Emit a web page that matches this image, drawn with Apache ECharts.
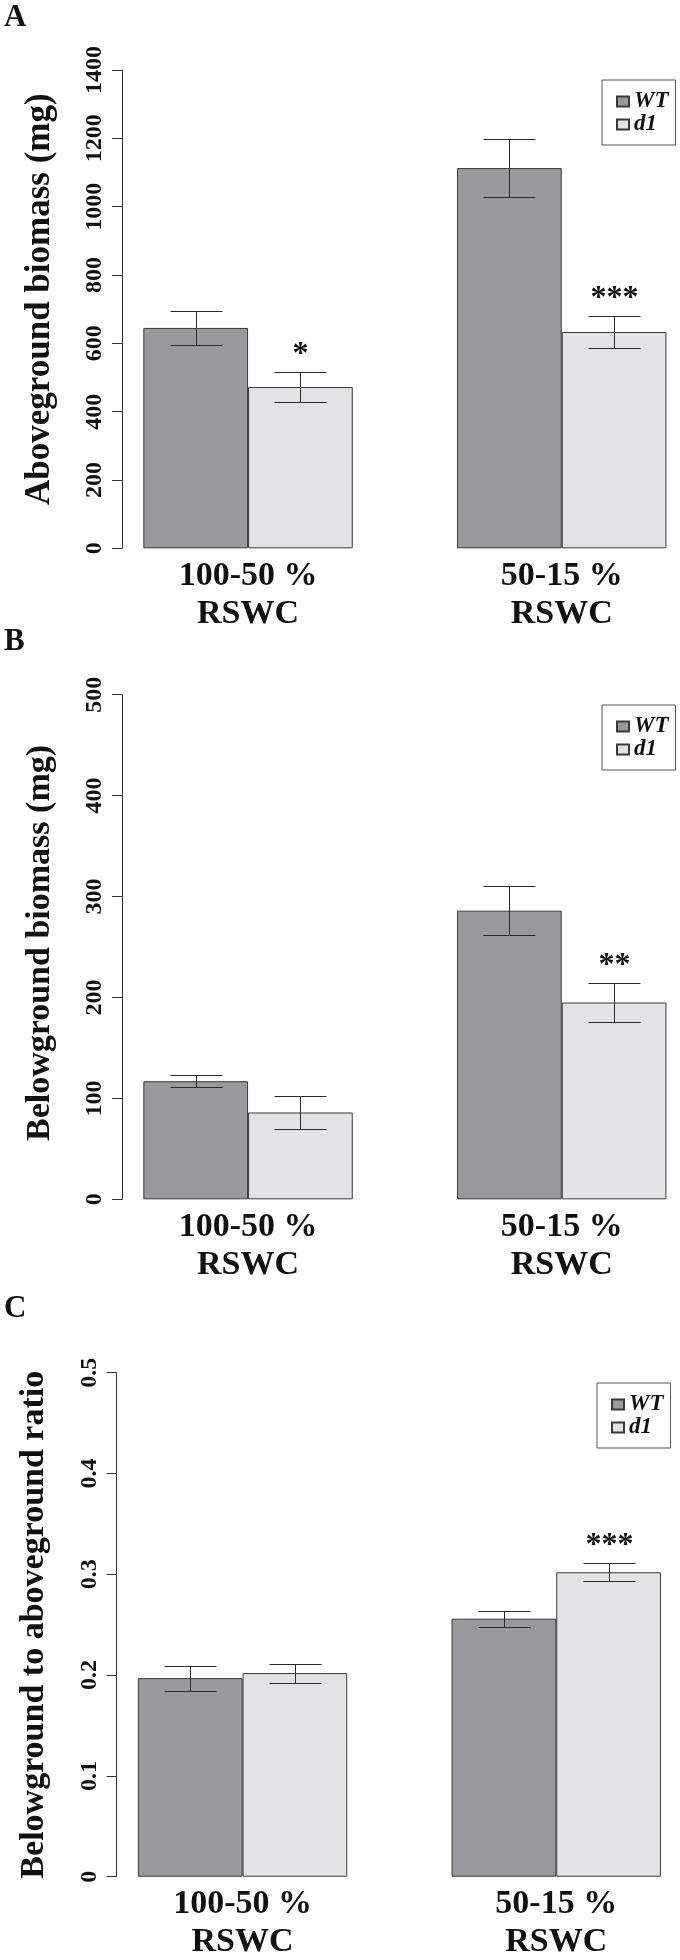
<!DOCTYPE html>
<html><head><meta charset="utf-8">
<script src="https://cdn.jsdelivr.net/npm/echarts@6/dist/echarts.min.js"></script>
<style>html,body{margin:0;padding:0;background:#fff}#c{width:680px;height:1960px}</style>
</head><body><div id="c"></div>
<script>
// ---------- data ----------
const categories = ['100-50 %\nRSWC', '50-15 %\nRSWC'];
const genotypes = ['WT', 'd1'];
const panelLetters = ['A', 'B', 'C'];

// Panel A: aboveground biomass (mg)
const aboveWT = [645, 1113];
const aboveWTse = [50, 84];
const aboveD1 = [472, 633];
const aboveD1se = [44, 47];
const aboveSig = ['*', '***'];
const aboveTicks = [0, 200, 400, 600, 800, 1000, 1200, 1400];

// Panel B: belowground biomass (mg)
const belowWT = [117, 286];
const belowWTse = [6, 24];
const belowD1 = [86, 195];
const belowD1se = [16, 19];
const belowSig = ['', '**'];
const belowTicks = [0, 100, 200, 300, 400, 500];

// Panel C: below/above ratio
const ratioWT = [0.197, 0.256];
const ratioWTse = [0.0125, 0.008];
const ratioD1 = [0.202, 0.302];
const ratioD1se = [0.0095, 0.0088];
const ratioSig = ['', '***'];
const ratioTicks = [0, 0.1, 0.2, 0.3, 0.4, 0.5];

const yTitles = ['Aboveground biomass (mg)', 'Belowground biomass (mg)', 'Belowground to aboveground ratio'];

// ---------- layout / style ----------
const FONT = "'Liberation Serif', 'Times New Roman', serif";
const COL_WT = '#98999d', COL_D1 = '#e2e3e5', EDGE = '#3a3a3a';
const BAR_FRAC = 0.3338;
const CAP = 26;

const panels = [
  {wt: aboveWT, wtSe: aboveWTse, d1: aboveD1, d1Se: aboveD1se, sig: aboveSig, ticks: aboveTicks,
   grid: {left: 91.2, top: 70, width: 627.4, height: 478.3}, yOff: -30.8, legend: {left: 602, top: 80},
   letterTop: 2, titleSize: 35, titlePad: [0, 0, 0, 20]},
  {wt: belowWT, wtSe: belowWTse, d1: belowD1, d1Se: belowD1se, sig: belowSig, ticks: belowTicks,
   grid: {left: 91.2, top: 694.7, width: 627.4, height: 504.6}, yOff: -30.8, legend: {left: 602, top: 705},
   letterTop: 626, titleSize: 34, titlePad: [0, 0, 0, 8]},
  {wt: ratioWT, wtSe: ratioWTse, d1: ratioD1, d1Se: ratioD1se, sig: ratioSig, ticks: ratioTicks,
   grid: {left: 85.7, top: 1372.7, width: 627.4, height: 504}, yOff: -31, legend: {left: 597, top: 1383},
   letterTop: 1293, titleSize: 34, titlePad: [0, 0, 0, 0]}
];

function errRender(sign, sigs) {
  return function (params, api) {
    const idx = api.value(0), m = api.value(1), e = api.value(2);
    const band = api.size([1, 0])[0];
    const c = api.coord([idx, m]);
    const x = Math.round(c[0] + sign * band * BAR_FRAC / 2) + 0.5;
    const yT = Math.round(api.coord([idx, m + e])[1]) + 0.5;
    const yB = Math.round(api.coord([idx, m - e])[1]) + 0.5;
    const st = {stroke: '#2a2a2a', lineWidth: 1};
    const children = [
      {type: 'line', shape: {x1: x, y1: yT, x2: x, y2: yB}, style: st},
      {type: 'line', shape: {x1: x - CAP, y1: yT, x2: x + CAP, y2: yT}, style: st},
      {type: 'line', shape: {x1: x - CAP, y1: yB, x2: x + CAP, y2: yB}, style: st}
    ];
    const lab = sigs ? sigs[params.dataIndex] : '';
    if (lab) {
      children.push({type: 'text', x: x, y: yT - 2,
        style: {text: lab, textAlign: 'center', textVerticalAlign: 'bottom',
                font: 'bold 32px ' + FONT, fill: '#111'}});
    }
    return {type: 'group', children: children};
  };
}

const grids = [], xAxes = [], yAxes = [], series = [], legends = [], graphics = [];
panels.forEach(function (p, i) {
  grids.push(Object.assign({containLabel: false, outerBoundsMode: 'none'}, p.grid));
  const t = p.ticks;
  xAxes.push({
    gridIndex: i, type: 'category', data: categories,
    axisLine: {show: false}, axisTick: {show: false},
    axisLabel: {interval: 0, fontFamily: FONT, fontWeight: 'bold', fontSize: 34, lineHeight: 38,
                color: '#111', margin: 9}
  });
  yAxes.push({
    gridIndex: i, type: 'value', min: t[0], max: t[t.length - 1], interval: t[1] - t[0],
    offset: p.yOff,
    axisLine: {show: true, lineStyle: {color: '#333', width: 1}},
    axisTick: {show: true, length: 10, lineStyle: {color: '#333', width: 1}},
    splitLine: {show: false},
    axisLabel: {rotate: 90, margin: 15, fontFamily: FONT, fontWeight: 'bold', fontSize: 24, color: '#111',
                formatter: function (v) { return String(v); }},
    name: yTitles[i], nameLocation: 'middle', nameGap: 65,
    nameTextStyle: {fontFamily: FONT, fontWeight: 'bold', fontSize: p.titleSize, color: '#111', padding: p.titlePad}
  });
  series.push({
    name: 'WT', type: 'bar', xAxisIndex: i, yAxisIndex: i, data: p.wt,
    barWidth: (BAR_FRAC * 100) + '%', barGap: '0%',
    itemStyle: {color: COL_WT, borderColor: EDGE, borderWidth: 1}
  });
  series.push({
    name: 'd1', type: 'bar', xAxisIndex: i, yAxisIndex: i, data: p.d1,
    barWidth: (BAR_FRAC * 100) + '%', barGap: '0%',
    itemStyle: {color: COL_D1, borderColor: EDGE, borderWidth: 1}
  });
  series.push({
    name: 'errWT' + i, type: 'custom', xAxisIndex: i, yAxisIndex: i,
    data: p.wt.map(function (v, k) { return [k, v, p.wtSe[k]]; }),
    encode: {x: 0, y: 1}, renderItem: errRender(-1, null), z: 5
  });
  series.push({
    name: 'errD1' + i, type: 'custom', xAxisIndex: i, yAxisIndex: i,
    data: p.d1.map(function (v, k) { return [k, v, p.d1Se[k]]; }),
    encode: {x: 0, y: 1}, renderItem: errRender(1, p.sig), z: 5
  });
  legends.push({
    left: p.legend.left, top: p.legend.top, orient: 'vertical', data: genotypes,
    icon: 'rect', itemWidth: 12, itemHeight: 10, itemGap: 0,
    padding: [10, 7, 9, 14], borderColor: '#555', borderWidth: 1,
    selectedMode: false,
    textStyle: {fontFamily: FONT, fontStyle: 'italic', fontWeight: 'bold', fontSize: 23, lineHeight: 19, color: '#111'}
  });
  graphics.push({
    type: 'text', left: 4, top: p.letterTop,
    style: {text: panelLetters[i], font: 'bold 31px ' + FONT, fill: '#111'}
  });
});

const chart = echarts.init(document.getElementById('c'), null, {renderer: 'canvas'});
chart.setOption({
  animation: false,
  backgroundColor: '#fff',
  grid: grids, xAxis: xAxes, yAxis: yAxes, series: series, legend: legends, graphic: graphics
});
</script>
</body></html>
